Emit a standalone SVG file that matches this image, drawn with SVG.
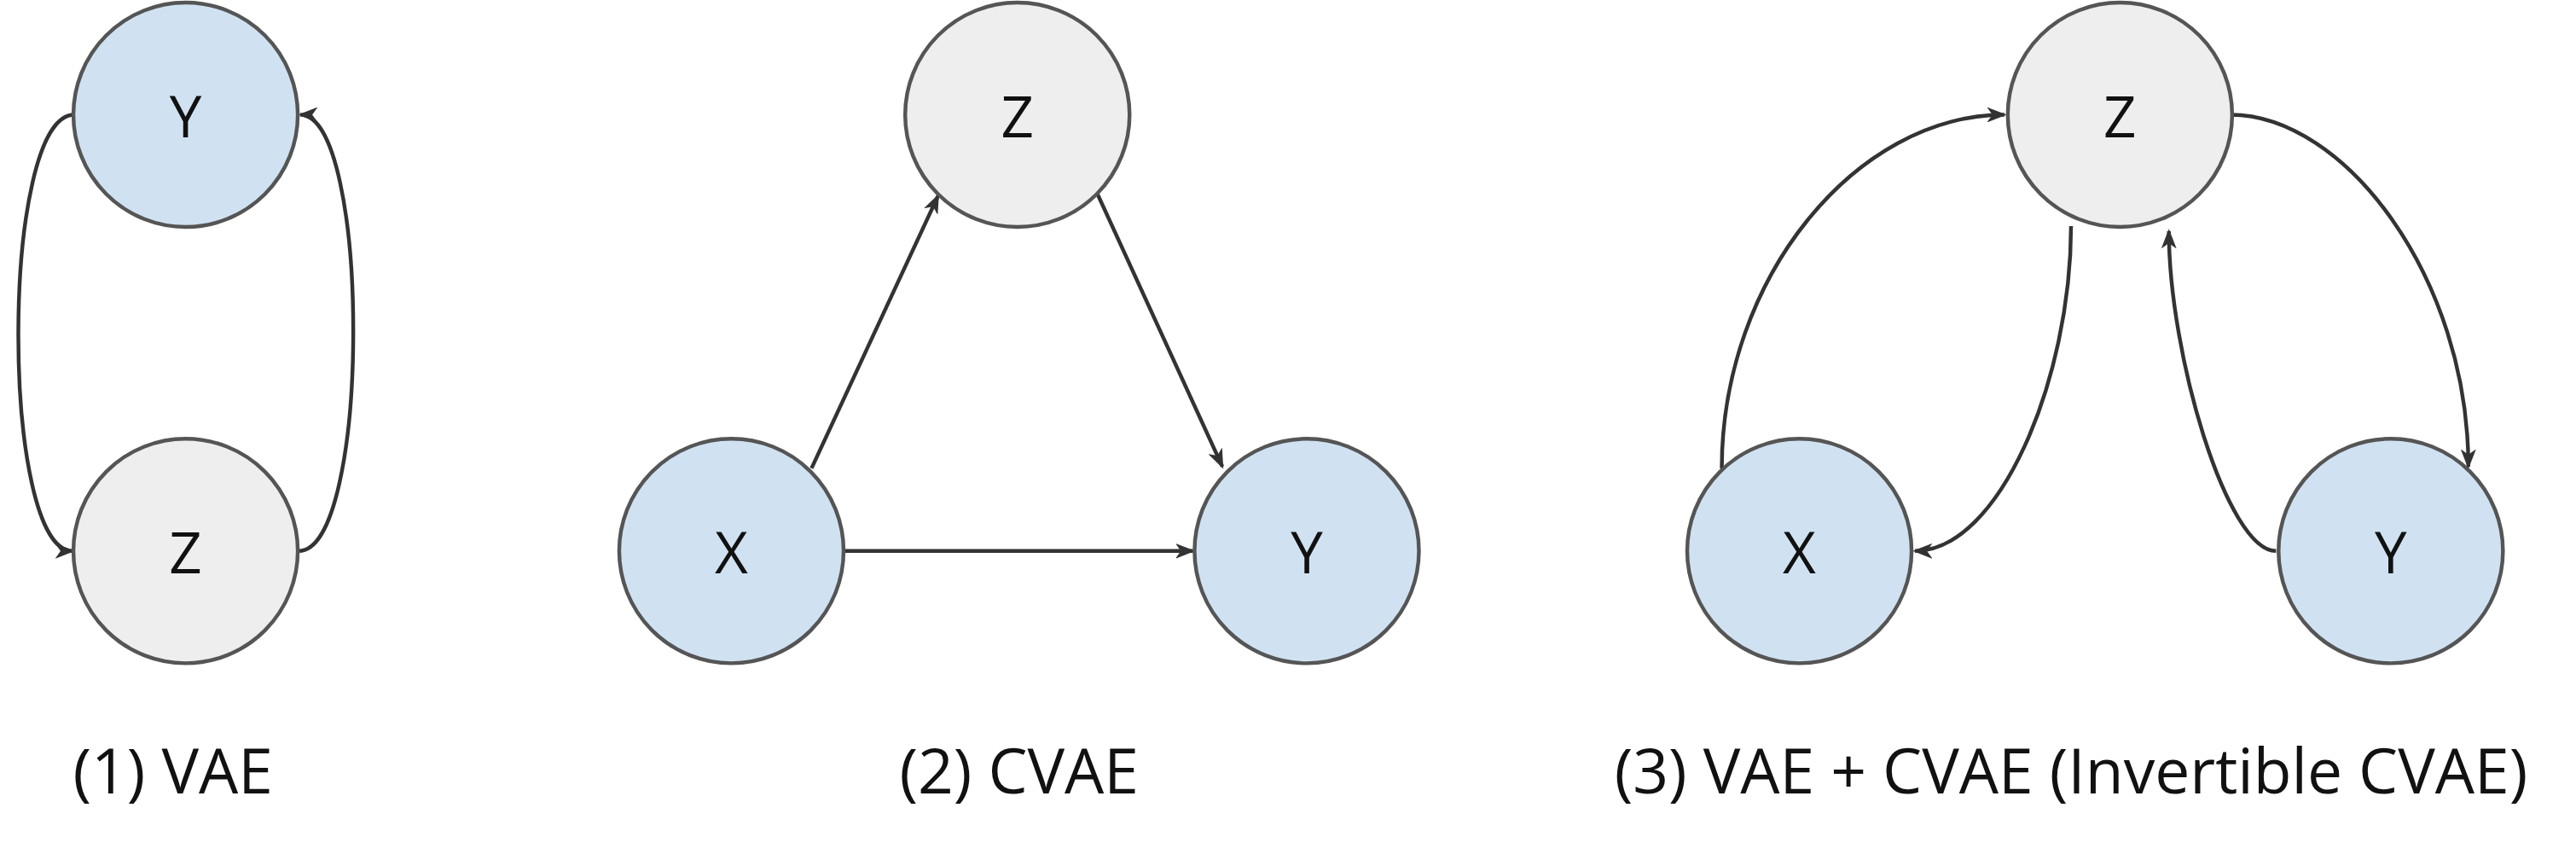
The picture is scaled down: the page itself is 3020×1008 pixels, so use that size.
<svg xmlns="http://www.w3.org/2000/svg" width="3020" height="1008" viewBox="0 0 3020 1008">
<defs>
<style>
.b{fill:#d0e2f2;stroke:#555;stroke-width:4.5}
.g{fill:#eeeeee;stroke:#555;stroke-width:4.5}
.n{font-family:"Open Sans","Liberation Sans",sans-serif;font-size:68px;fill:#111;text-anchor:middle;dominant-baseline:central}
.l{font-family:"Open Sans","Liberation Sans",sans-serif;font-size:74px;fill:#111;text-anchor:middle}
.c{fill:none;stroke:#333;stroke-width:4.5;marker-end:url(#a)}
</style>
<marker id="a" markerWidth="24" markerHeight="18" refX="20" refY="9" orient="auto" markerUnits="userSpaceOnUse">
<path d="M2,2 L20,9 L2,16 L7,9 Z" fill="#333" stroke="#333" stroke-width="2"/>
</marker>
</defs>
<g transform="scale(0.989)">
<g id="connectors">
<path class="c" d="M88,136 C0,136 0,653 86,653"/>
<path class="c" d="M354,653 C440,653 440,136 356,136"/>
<path class="c" d="M962,555 L1112,232"/>
<path class="c" d="M1301,230 L1449,553"/>
<path class="c" d="M999,653 L1414,653"/>
<path class="c" d="M2041,555 C2041,330 2200,136 2376,136"/>
<path class="c" d="M2455,268 C2455,450 2370,653 2270,653"/>
<path class="c" d="M2644,136 C2780,136 2926,330 2926,553"/>
<path class="c" d="M2698,653 C2640,653 2571,420 2571,274"/>
</g>
<g id="p1Y"><circle class="b" cx="220" cy="136" r="133"/><text class="n" x="220" y="136">Y</text></g>
<g id="p1Z"><circle class="g" cx="220" cy="653" r="133"/><text class="n" x="220" y="653">Z</text></g>
<g id="p2Z"><circle class="g" cx="1206" cy="136" r="133"/><text class="n" x="1206" y="136">Z</text></g>
<g id="p2X"><circle class="b" cx="867" cy="653" r="133"/><text class="n" x="867" y="653">X</text></g>
<g id="p2Y"><circle class="b" cx="1549" cy="653" r="133"/><text class="n" x="1549" y="653">Y</text></g>
<g id="p3Z"><circle class="g" cx="2513" cy="136" r="133"/><text class="n" x="2513" y="136">Z</text></g>
<g id="p3X"><circle class="b" cx="2133" cy="653" r="133"/><text class="n" x="2133" y="653">X</text></g>
<g id="p3Y"><circle class="b" cx="2834" cy="653" r="133"/><text class="n" x="2834" y="653">Y</text></g>
<text class="l" x="205" y="940">(1) VAE</text>
<text class="l" x="1208" y="940">(2) CVAE</text>
<text class="l" x="2455" y="940">(3) VAE + CVAE (Invertible CVAE)</text>
</g>
</svg>
